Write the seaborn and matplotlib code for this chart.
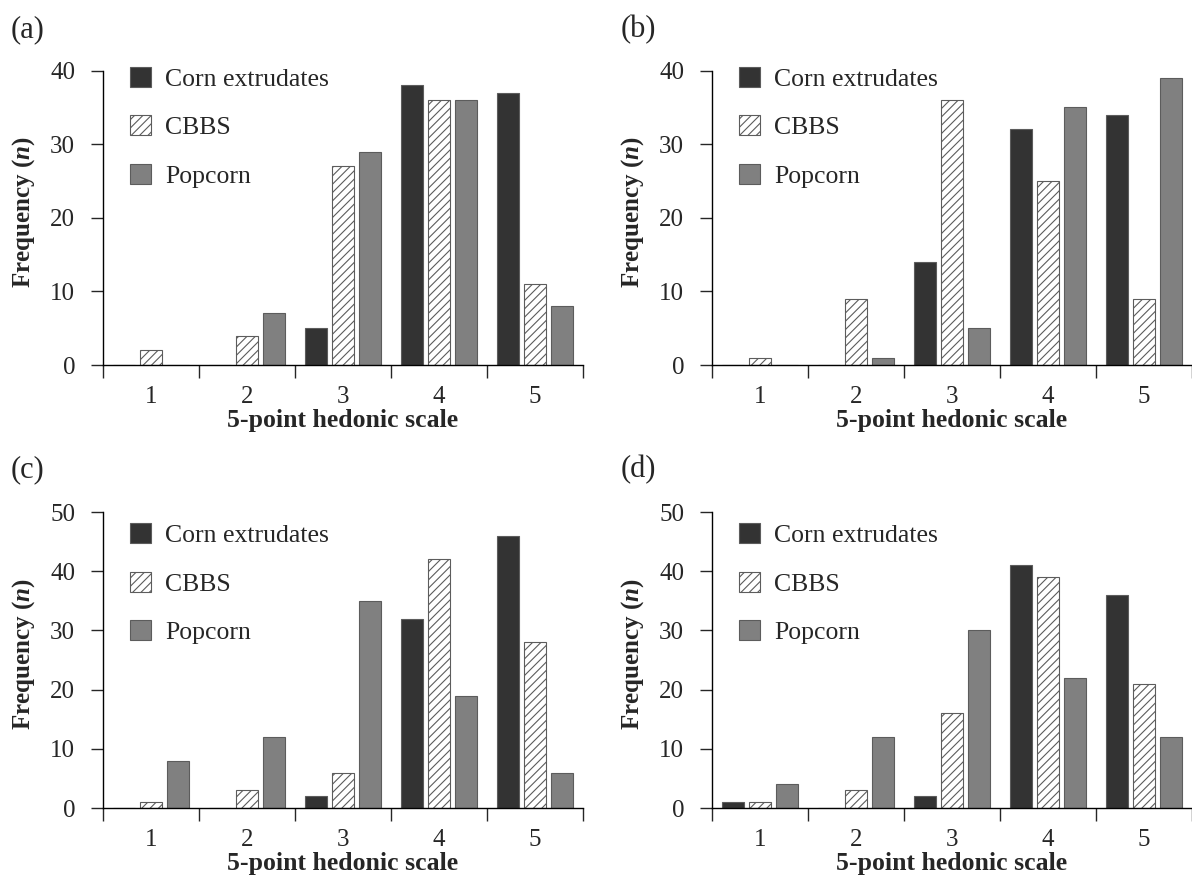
"""Hedonic scale frequency histograms for four sensory attributes."""
import numpy as np
import pandas as pd
import seaborn as sns
import matplotlib.pyplot as plt

scores = ['1', '2', '3', '4', '5']
products = ['Corn extrudates', 'CBBS', 'Popcorn']

# panel (a)
corn_a = [0, 0, 5, 38, 37]
cbbs_a = [2, 4, 27, 36, 11]
popcorn_a = [0, 7, 29, 36, 8]
# panel (b)
corn_b = [0, 0, 14, 32, 34]
cbbs_b = [1, 9, 36, 25, 9]
popcorn_b = [0, 1, 5, 35, 39]
# panel (c)
corn_c = [0, 0, 2, 32, 46]
cbbs_c = [1, 3, 6, 42, 28]
popcorn_c = [8, 12, 35, 19, 6]
# panel (d)
corn_d = [1, 0, 2, 41, 36]
cbbs_d = [1, 3, 16, 39, 21]
popcorn_d = [4, 12, 30, 22, 12]

panels = [
    ('(a)', corn_a, cbbs_a, popcorn_a, 40),
    ('(b)', corn_b, cbbs_b, popcorn_b, 40),
    ('(c)', corn_c, cbbs_c, popcorn_c, 50),
    ('(d)', corn_d, cbbs_d, popcorn_d, 50),
]

sns.set_style('ticks')
plt.rcParams['font.family'] = ['Liberation Serif', 'DejaVu Serif']
plt.rcParams['mathtext.fontset'] = 'custom'
plt.rcParams['mathtext.it'] = 'Liberation Serif:style=italic:weight=bold'
plt.rcParams['hatch.linewidth'] = 0.8

colors = ['#333333', '#ffffff', '#808080']

fig = plt.figure(figsize=(11.92, 8.86), dpi=100)
# axes boxes in figure fractions: left, bottom, width, height
boxes = [
    (0.0864, 0.588, 0.4027, 0.3324),
    (0.5973, 0.588, 0.4027, 0.3324),
    (0.0864, 0.088, 0.4027, 0.334),
    (0.5973, 0.088, 0.4027, 0.334),
]
label_pos = [(0.009, 0.967), (0.521, 0.967), (0.009, 0.470), (0.521, 0.470)]
legend_top = [1.012, 1.012, 0.962, 0.962]

for i, (tag, corn, cbbs, pop, ymax) in enumerate(panels):
    ax = fig.add_axes(boxes[i])
    df = pd.DataFrame({
        'score': scores * 3,
        'freq': corn + cbbs + pop,
        'product': np.repeat(products, len(scores)),
    })
    sns.barplot(data=df, x='score', y='freq', hue='product',
                hue_order=products, palette=colors, width=0.84, gap=0.2,
                edgecolor='#5c5c5c', linewidth=0.8, legend=False, ax=ax)
    for bar in ax.containers[1]:
        bar.set_hatch('////')

    ax.set_xlim(-0.5, 4.5)
    ax.set_ylim(0, ymax)
    ax.set_yticks(np.arange(0, ymax + 1, 10))
    ax.set_xticks(np.arange(-0.5, 5, 1), minor=True)
    ax.tick_params(axis='x', which='major', length=0, pad=15, labelsize=18)
    ax.tick_params(axis='x', which='minor', length=9, width=1, direction='out')
    ax.tick_params(axis='y', length=9, width=1, pad=11, labelsize=18)
    sns.despine(ax=ax)
    for side in ['left', 'bottom']:
        ax.spines[side].set_linewidth(1)
        ax.spines[side].set_color('black')

    ax.set_xlabel('5-point hedonic scale', fontsize=18.5, fontweight='bold',
                  labelpad=1)
    ax.set_ylabel(r'Frequency ($\mathit{n}$)', fontsize=18,
                  fontweight='bold')
    ax.yaxis.set_label_coords(-0.138, 0.52)

    ax.legend(handles=ax.containers, labels=products, loc='upper left',
              bbox_to_anchor=(0.056, legend_top[i]), frameon=False,
              fontsize=18.5, handlelength=0.82, handleheight=0.82,
              labelspacing=0.95, handletextpad=0.55, borderpad=0,
              borderaxespad=0)

    fig.text(label_pos[i][0], label_pos[i][1], tag, fontsize=22,
             va='center', ha='left')

fig.savefig('out.png', dpi=100)
